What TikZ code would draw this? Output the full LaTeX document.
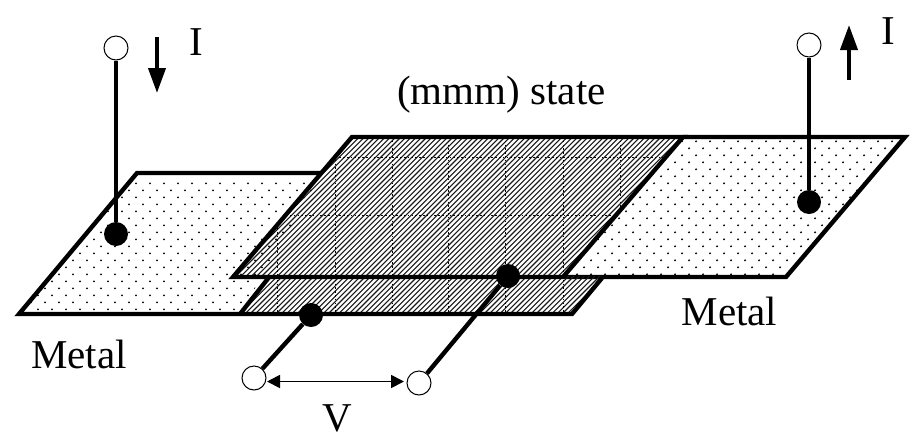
\documentclass[tikz,border=0pt]{standalone}
\usepackage{fontspec}
\setmainfont{Liberation Serif}
\usetikzlibrary{arrows.meta}
\tikzset{
  plate/.style={line width=4.4pt,line join=miter,miter limit=10},
  lead/.style={line width=4.4pt},
  openpin/.style={circle,draw,fill=white,line width=1pt,minimum size=24pt,inner sep=0pt},
  blackpin/.style={circle,fill=black,minimum size=24pt,inner sep=0pt},
  label/.style={inner sep=0pt,anchor=base,font=\fontsize{41pt}{41pt}\selectfont},
  flow/.style={line width=4pt,-{Triangle[length=25pt,width=17pt]}},
  gap/.style={line width=1.8pt,{Triangle[length=13pt,width=13pt]}-{Triangle[length=13pt,width=13pt]}},
  hatchline/.style={line width=1.1pt,black!90},
  gridline/.style={line width=.8pt,black,dash pattern=on 1.6pt off 2.2pt},
}
\newcommand{\dotfield}[4]{%
  \foreach \k in {#3,...,#4}{%
    \pgfmathsetmacro{\rowy}{183.3+7*\k}%
    \pgfmathsetmacro{\off}{iseven(\k)?150:143}%
    \foreach \j in {#1,...,#2}{%
      \fill[black] ({\off+14*\j},\rowy) circle (1.05pt);
    }%
  }%
}
\newcommand{\hatchfield}[2]{%
  \foreach \j in {#1,...,#2}{%
    \draw[hatchline] ({5.2*\j},330) -- ({5.2*\j+210},120);
  }%
}
\begin{document}
\begin{tikzpicture}[x=1pt,y=-1pt]
\useasboundingbox (0,0) rectangle (915,445);

% left metal
\begin{scope}
  \clip (19,314) -- (137,173) -- (322,173) -- (240,314) -- cycle;
  \dotfield{-10}{15}{0}{19}
\end{scope}
\draw[plate] (240,314) -- (19,314) -- (137,173) -- (322,173);

% right metal
\begin{scope}
  \clip (683,137) -- (905,137) -- (786,277) -- (563,277) -- cycle;
  \dotfield{28}{56}{-6}{14}
\end{scope}
\draw[plate] (683,137) -- (905,137) -- (786,277) -- (563,277);

% lower state plate
\begin{scope}
  \clip (240,314) -- (272,276) -- (604,276) -- (572,314) -- cycle;
  \hatchfield{0}{120}
  \foreach \gx in {277,335,392,448,505,563}{\draw[gridline] (\gx,276) -- (\gx,314);}
\end{scope}
\draw[plate] (240,314) -- (572,314) -- (602,278);
\draw[plate] (240,314) -- (270,276);

% upper state plate
\begin{scope}
  \clip (233,276) -- (352,137) -- (683,137) -- (563,276) -- cycle;
  \hatchfield{-10}{120}
  \foreach \gx in {277,335,392,448,505,563,620}{\draw[gridline] (\gx,137) -- (\gx,276);}
  \foreach \gy in {157,215}{\draw[gridline] (233,\gy) -- (683,\gy);}
\end{scope}
\draw[plate] (563,277) -- (233,277) -- (352,137) -- (683,137) -- (563,277);

% pins
\node[openpin] (tl) at (116,48) {};
\node[openpin] (tr) at (809,45) {};
\node[openpin] (vl) at (254,378) {};
\node[openpin] (vr) at (419,383) {};
\node[blackpin] (bl) at (116,234) {};
\node[blackpin] (br) at (809,202) {};
\node[blackpin] (bm) at (311,315) {};
\node[blackpin] (bs) at (508,276) {};

% leads
\draw[lead] (tl) -- (bl);
\draw[lead] (tr) -- (br);
\draw[lead] (vl) -- (bm);
\draw[lead] (vr) -- (bs);

% arrows
\coordinate (da) at (157,37);
\coordinate (db) at (157,93);
\coordinate (ua) at (849,80);
\coordinate (ub) at (849,25);
\coordinate (ga) at (267,381.5);
\coordinate (gb) at (404,381.5);
\draw[flow] (da) -- (db);
\draw[flow] (ua) -- (ub);
\draw[gap] (ga) -- (gb);

% labels
\node[label] (i1) at (196.5,55) {I};
\node[label] (i2) at (888,44) {I};
\node[label] (st) at (501.5,104) {(mmm) state};
\node[label] (m1) at (79,368) {Metal};
\node[label] (m2) at (729.5,325) {Metal};
\node[label] (v) at (337,431) {V};
\end{tikzpicture}
\end{document}
